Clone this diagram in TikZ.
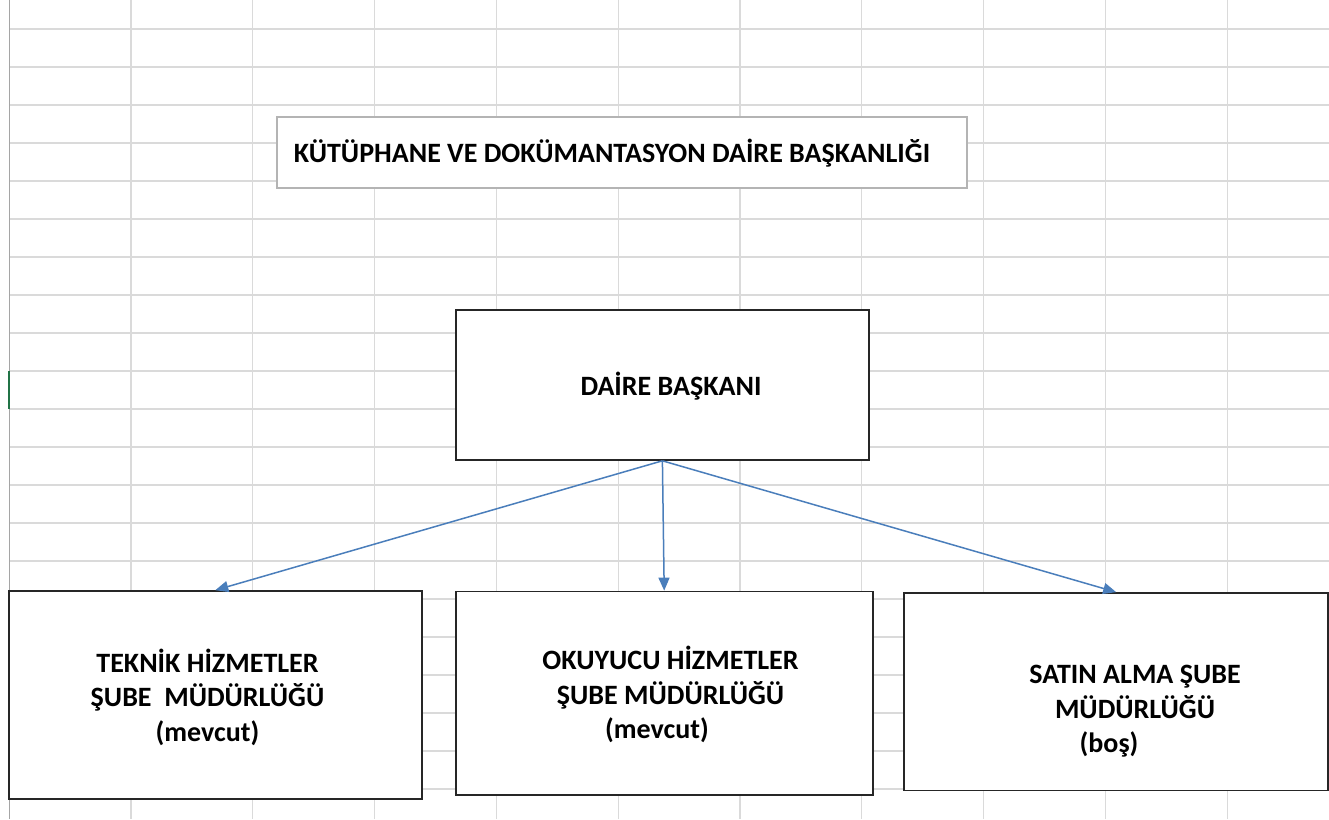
\documentclass[tikz,border=0pt]{standalone}
\usepackage{fontspec}
\setmainfont{Carlito}
\usepackage{tikz}
\usetikzlibrary{arrows.meta,calc}

\definecolor{gridgray}{RGB}{218,218,218}
\definecolor{sheetedge}{RGB}{165,165,165}
\definecolor{framegray}{RGB}{180,180,180}
\definecolor{connblue}{RGB}{74,126,187}
\definecolor{rowgreen}{RGB}{33,115,70}

\begin{document}
\begin{tikzpicture}[
    x=1pt, y=-1pt,
    cell/.style={draw=gridgray, line width=1.2pt},
    unit/.style={rectangle, draw=black!85, fill=white, line width=1.6pt, inner sep=0pt},
    banner/.style={rectangle, draw=framegray, fill=white, line width=1.2pt, inner sep=0pt},
    caption/.style={inner sep=0pt, align=center, anchor=base, font=\fontsize{28}{34.5}\selectfont\bfseries},
    arrow/.style={-{Triangle[length=13pt, width=11pt]}, line width=1.5pt, color=connblue}
]
\useasboundingbox[fill=white] (0,0) rectangle (1329,819);

% sheet grid
\foreach \k in {0,...,20}
    \draw[cell] (10,29+38*\k) -- (1329,29+38*\k);
\foreach \k in {0,...,9}
    \draw[cell] (131+121.8*\k,0) -- (131+121.8*\k,819);
\draw[sheetedge, line width=1.2pt] (9.5,0) -- (9.5,819);
\draw[rowgreen, line width=2pt] (9,371) -- (9,409);

\node[banner, minimum width=690, minimum height=71] (title) at (622,152.5) {};
\node[caption] (title_text) at ($(title.center)+(-10,9.5)$) {KÜTÜPHANE VE DOKÜMANTASYON DAİRE BAŞKANLIĞI};

\node[unit, minimum width=413, minimum height=150] (daire) at (662.4,385) {};
\node[caption] (daire_text) at ($(daire.center)+(8.6,10.5)$) {DAİRE BAŞKANI};

\node[unit, minimum width=413, minimum height=208] (teknik) at (215.3,695) {};
\node[unit, minimum width=417, minimum height=203.5] (okuyucu) at (664.2,693.2) {};
\node[unit, minimum width=424, minimum height=197.7] (satin) at (1116.2,691.8) {};

% base anchor sits on the last line
\node[caption] (teknik_text) at ($(teknik.center)+(-7.8,46)$) {
    TEKNİK HİZMETLER\\
    ŞUBE\ \ MÜDÜRLÜĞÜ\\
    (mevcut)
};
\node[caption] (okuyucu_text) at ($(okuyucu.center)+(6.3,45.3)$) {
    OKUYUCU HİZMETLER\\
    ŞUBE MÜDÜRLÜĞÜ\hspace*{18pt}\\
    (mevcut)\hspace*{27pt}
};
\node[caption] (satin_text) at ($(satin.center)+(18.8,61)$) {
    SATIN ALMA ŞUBE\\
    MÜDÜRLÜĞÜ\\
    (boş)\hspace*{52pt}
};

\draw[arrow] (daire.south) -- (teknik.north);
\draw[arrow] (daire.south) -- (okuyucu.north);
\draw[arrow] (daire.south) -- (satin.north);

\end{tikzpicture}
\end{document}
